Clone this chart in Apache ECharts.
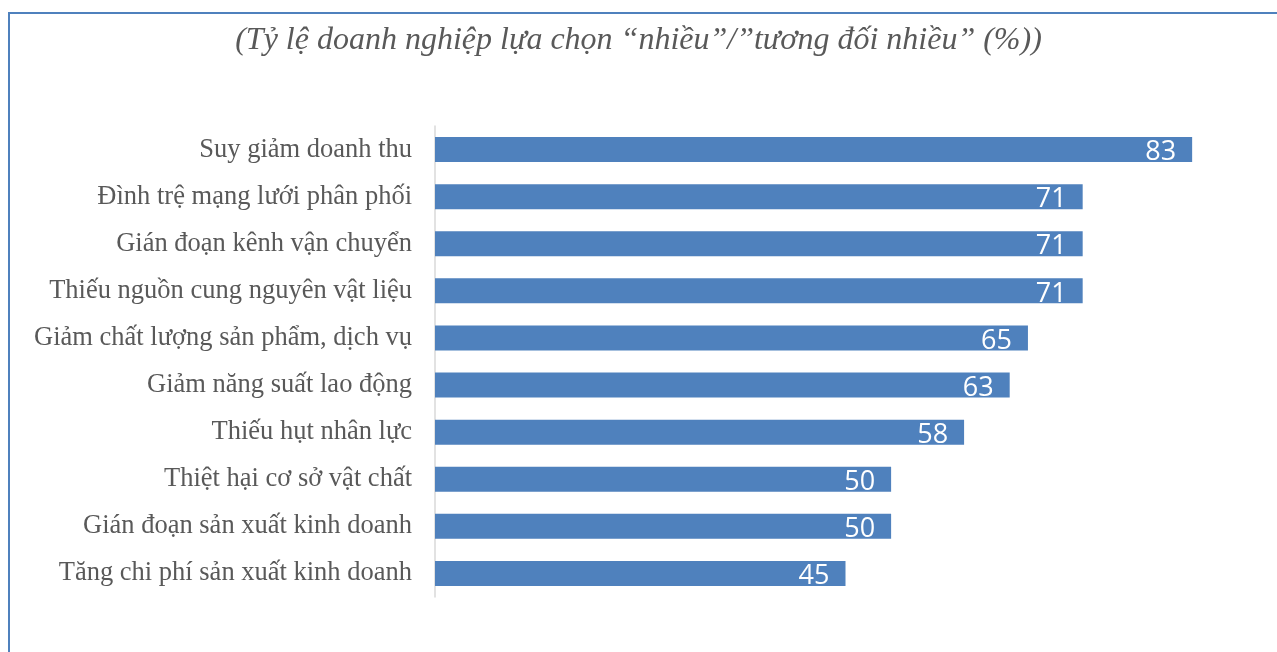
<!DOCTYPE html>
<html>
<head>
<meta charset="utf-8">
<script src="https://cdn.jsdelivr.net/npm/echarts@6/dist/echarts.min.js"></script>
<style>
html,body{margin:0;padding:0;background:#fff;}
#frame{position:absolute;left:8px;top:12px;right:0;bottom:0;border-left:2px solid #4F81BD;border-top:2px solid #4F81BD;}
#chart{position:absolute;left:0;top:0;width:1277px;height:652px;}
</style>
</head>
<body>
<div id="frame"></div>
<div id="chart"></div>
<script>
const titleText = '(Tỷ lệ doanh nghiệp lựa chọn “nhiều”/”tương đối nhiều” (%))';
const categories = [
  'Suy giảm doanh thu',
  'Đình trệ mạng lưới phân phối',
  'Gián đoạn kênh vận chuyển',
  'Thiếu nguồn cung nguyên vật liệu',
  'Giảm chất lượng sản phẩm, dịch vụ',
  'Giảm năng suất lao động',
  'Thiếu hụt nhân lực',
  'Thiệt hại cơ sở vật chất',
  'Gián đoạn sản xuất kinh doanh',
  'Tăng chi phí sản xuất kinh doanh'
];
const values = [83, 71, 71, 71, 65, 63, 58, 50, 50, 45];

const chart = echarts.init(document.getElementById('chart'), null, {renderer: 'canvas'});
chart.setOption({
  animation: false,
  backgroundColor: 'transparent',
  title: {
    text: titleText,
    left: 'center',
    top: 20,
    textStyle: {fontFamily: '"Liberation Serif", "Times New Roman", serif', fontStyle: 'italic', fontWeight: 'normal', fontSize: 32, color: '#595959'}
  },
  grid: {left: 435, right: 21, top: 126, bottom: 55, containLabel: false},
  xAxis: {
    type: 'value', min: 0, max: 90,
    show: false,
    splitLine: {show: false}
  },
  yAxis: {
    type: 'category',
    data: categories,
    inverse: true,
    axisLine: {show: true, lineStyle: {color: '#D9D9D9', width: 1.5}},
    axisTick: {show: false},
    axisLabel: {
      margin: 23,
      padding: [3, 0, 0, 0],
      fontFamily: '"Liberation Serif", "Times New Roman", serif',
      fontSize: 26.5,
      color: '#595959'
    }
  },
  series: [{
    type: 'bar',
    data: values,
    barWidth: 25,
    itemStyle: {color: '#4F81BD'},
    label: {
      show: true,
      position: 'insideRight',
      distance: 16,
      offset: [0, 3],
      color: '#ffffff',
      fontFamily: '"Open Sans", "Liberation Sans", sans-serif',
      fontSize: 27
    }
  }]
});
</script>
</body>
</html>
